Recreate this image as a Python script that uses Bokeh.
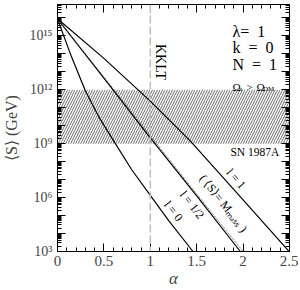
import numpy as np
from bokeh.plotting import figure
from bokeh.models import (Range1d, FixedTicker, LinearAxis, LogAxis, Span,
                          Label, CustomLabelingPolicy)
from bokeh.embed import file_html
from bokeh.resources import INLINE

# ---- data (log10 of <S> in GeV) ----
alpha_l0 = [0.0, 0.15, 0.3, 0.45, 0.6, 0.8, 1.0, 1.2, 1.46]
logS_l0 = [15.95, 13.85, 11.95, 10.45, 9.2, 7.55, 6.12, 4.7, 3.0]
alpha_l1 = [0.0, 0.5, 1.0, 1.43, 2.0, 2.49]
logS_l1 = [15.96, 13.75, 11.37, 9.16, 5.87, 3.03]
alpha_lhalf = [0.0, 0.5, 1.0, 1.5, 1.97]
logS_lhalf = [15.95, 12.65, 9.33, 6.1, 3.0]
alpha_mass = [0.0, 0.5, 1.0, 1.5, 2.0]
logS_mass = [15.95, 12.72, 9.45, 6.2, 3.0]

band_alpha = [0.0, 2.5]
band_lo = 1e9
band_hi = 1e12
kklt_alpha = 1.0

x_ticks = [0.0, 0.5, 1.0, 1.5, 2.0, 2.5]
x_tick_labels = ["0", "0.5", "1", "1.5", "2", "2.5"]
y_decades = list(range(3, 17))
y_label_decades = [3, 6, 9, 12, 15]
y_label_texts = ["10³", "10⁶", "10⁹", "10¹²", "10¹⁵"]

SERIF = "Liberation Serif"

p = figure(width=298, height=290, x_range=Range1d(0, 2.5),
           y_range=Range1d(1e3, 10 ** 16.75), y_axis_type="log",
           output_backend="svg", toolbar_location=None,
           min_border_left=57, min_border_right=9, min_border_top=0,
           min_border_bottom=38)
p.grid.visible = False
p.outline_line_color = "black"
p.outline_line_width = 1
p.background_fill_color = "white"
p.border_fill_color = "white"

xticker = FixedTicker(ticks=x_ticks,
                      minor_ticks=[round(0.1 * i, 2) for i in range(26)])
yticks = [10.0 ** d for d in y_decades]
yminor = [m * 10.0 ** d for d in y_decades[:-1] for m in range(2, 10)] + \
         [m * 10.0 ** 16 for m in range(2, 6)]
yticker = FixedTicker(ticks=yticks, minor_ticks=yminor)

overrides_y = {10.0 ** d: "" for d in y_decades}
for d, t in zip(y_label_decades, y_label_texts):
    overrides_y[10.0 ** d] = t
overrides_x = {v: t for v, t in zip(x_ticks, x_tick_labels)}

every_third = CustomLabelingPolicy(code="""
    const result = new Set()
    for (const i of indices) {
        if (i % 3 == 0) result.add(i)
    }
    return result
""")
no_labels = CustomLabelingPolicy(code="return new Set()")


def style_axis(ax):
    ax.axis_line_color = "black"
    ax.major_tick_line_color = "black"
    ax.minor_tick_line_color = "black"
    ax.major_tick_in = 8
    ax.major_tick_out = 0
    ax.minor_tick_in = 4
    ax.minor_tick_out = 0


xa = p.xaxis[0]
xa.ticker = xticker
xa.major_label_overrides = overrides_x
xa.major_label_text_font = SERIF
xa.major_label_text_font_size = "15px"
xa.major_label_standoff = 4
xa.axis_label = "α"
xa.axis_label_text_font = SERIF
xa.axis_label_text_font_size = "17px"
xa.axis_label_text_font_style = "italic"
xa.axis_label_standoff = 0
style_axis(xa)

ya = p.yaxis[0]
ya.ticker = yticker
ya.major_label_overrides = overrides_y
ya.major_label_policy = every_third
ya.major_label_text_font = SERIF
ya.major_label_text_font_size = "14px"
ya.major_label_standoff = 5
ya.axis_label = "⟨S⟩ (GeV)"
ya.axis_label_text_font = SERIF
ya.axis_label_text_font_size = "16px"
ya.axis_label_text_font_style = "normal"
ya.axis_label_standoff = 6
style_axis(ya)

top = LinearAxis(ticker=xticker, major_label_text_font_size="1px",
                 major_label_standoff=0, axis_label_standoff=0,
                 major_label_policy=no_labels)
style_axis(top)
p.add_layout(top, "above")
right = LogAxis(ticker=yticker, major_label_text_font_size="1px",
                major_label_standoff=0, axis_label_standoff=0,
                major_label_policy=no_labels)
style_axis(right)
p.add_layout(right, "right")

# hatched excluded band
p.varea(x=band_alpha, y1=[band_lo] * 2, y2=[band_hi] * 2,
        fill_color=None, fill_alpha=0, hatch_pattern="/",
        hatch_color="#222222", hatch_alpha=0.85, hatch_scale=5,
        hatch_weight=0.8)

p.add_layout(Span(location=kklt_alpha, dimension="height",
                  line_color="#bdbdbd", line_width=1.5, line_dash="8 3"))


def pw(v):
    return [10.0 ** x for x in v]


p.line(alpha_l0, pw(logS_l0), line_color="black", line_width=1.2)
p.line(alpha_l1, pw(logS_l1), line_color="black", line_width=1.2)
p.line(alpha_lhalf, pw(logS_lhalf), line_color="black", line_width=1.2)
p.line(alpha_mass, pw(logS_mass), line_color="#555555", line_width=1,
       line_dash="1 1")


def txt(x, logy, s, size, angle=0.0, align="left", baseline="alphabetic",
        style="normal"):
    p.add_layout(Label(x=x, y=10.0 ** logy, text=s, angle=angle,
                       angle_units="deg", text_font=SERIF,
                       text_font_size=size, text_align=align,
                       text_baseline=baseline, text_color="black",
                       text_font_style=style))


EN = "\u2002"
# parameter box
txt(1.886, 15.27, "λ=" + EN + "1", "16px")
txt(1.886, 14.33, "k" + EN + "=" + EN + "0", "16px")
txt(1.886, 13.39, "N" + EN + "=" + EN + "1", "16px")

# Omega_a > Omega_DM
txt(1.886, 12.17, "Ω", "11px")
txt(1.956, 12.03, "a", "7px")
txt(2.037, 12.17, ">", "11px")
txt(2.144, 12.17, "Ω", "11px")
txt(2.215, 12.03, "DM", "7px")

txt(1.864, 8.52, "SN 1987A", "11.5px")

txt(1.11, 13.55, "KKLT", "14px", angle=-90, align="center",
    baseline="middle")

txt(1.925, 7.05, "l = 1", "12px", angle=-48.5, align="center",
    baseline="middle")
txt(1.79, 5.68, "( ⟨S⟩= Mₘₐₛₛ )", "12px", angle=-52, align="center",
    baseline="middle")
txt(1.45, 5.6, "l = 1/2", "12px", angle=-52, align="center",
    baseline="middle")
txt(1.25, 5.25, "l = 0", "12px", angle=-52, align="center",
    baseline="middle")

open("out.html", "w").write(file_html(p, INLINE))
